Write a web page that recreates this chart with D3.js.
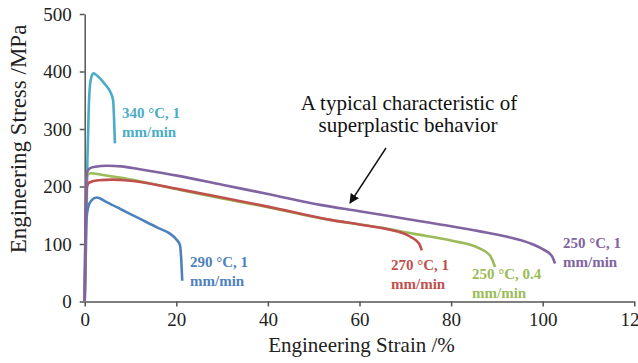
<!DOCTYPE html>
<html>
<head>
<meta charset="utf-8">
<script src="https://cdn.jsdelivr.net/npm/d3@7"></script>
<style>
  body { margin: 0; background: #fff; }
  svg { display: block; font-family: "Liberation Serif", "Times New Roman", serif; }
</style>
</head>
<body>
<div id="chart"></div>
<script>
// tick labels
var xTicks = [0, 20, 40, 60, 80, 100, 120];
var yTicks = [0, 100, 200, 300, 400, 500];

// curves: [strain %, stress MPa]
var c340 = [[0,0],[0.3,100],[0.6,250],[0.9,340],[1.3,385],[1.9,397],[2.8,392],[4.4,378],[5.5,366],[6.2,350],[6.4,320],[6.6,275]];
var c290 = [[0,0],[0.2,100],[0.4,145],[0.8,165],[1.5,176],[2.6,181],[5,172],[8,160],[12,144],[16,128],[18.6,118],[20,108],[20.8,98],[21.1,70],[21.3,36]];
var c270 = [[0,0],[0.2,150],[0.5,200],[1,207],[3,211],[6,212],[10,210],[20.8,195],[30,181],[40,165],[53.6,142],[60,134],[65.9,126],[71,113],[73,101],[73.6,89]];
var c250s = [[0,0],[0.2,160],[0.5,218],[1.2,223],[4,220],[8,215],[12,209],[20.8,194],[30,179],[40,164],[51.4,145],[60,134],[65,128],[71.7,118],[80,106],[86.3,92],[88.5,80],[89.6,60]];
var c250 = [[0,0],[0.2,150],[0.5,225],[1,231],[2,234],[5,236],[8,235],[12,230],[20.8,218],[30,203],[40,187],[51.4,168],[60,157],[70,144],[80,131],[86.3,122],[92,113],[97,102],[100,91],[102,79],[102.7,66]];

var series = [
  {data: c340, color: "#4bacc6", label: ["340 °C, 1", "mm/min"], at: [122, 118]},
  {data: c290, color: "#4f81bd", label: ["290 °C, 1", "mm/min"], at: [190, 267]},
  {data: c250s, color: "#9bbb59", label: ["250 °C, 0.4", "mm/min"], at: [472, 279]},
  {data: c270, color: "#c0504d", label: ["270 °C, 1", "mm/min"], at: [391, 270]},
  {data: c250, color: "#8064a2", label: ["250 °C, 1", "mm/min"], at: [563, 248]}
];

var width = 638, height = 363;
var svg = d3.select("#chart").append("svg")
  .attr("width", width)
  .attr("height", height);

var x = d3.scaleLinear().domain([0, 120]).range([84.7, 634.3]);
var y = d3.scaleLinear().domain([0, 500]).range([301.5, 14]);

// axes
var xAxis = svg.append("g")
  .attr("transform", "translate(0," + y(0) + ")")
  .call(d3.axisBottom(x).tickValues(xTicks).tickSizeInner(5).tickSizeOuter(0).tickPadding(6));
var yAxis = svg.append("g")
  .attr("transform", "translate(" + x(0) + ",0)")
  .call(d3.axisLeft(y).tickValues(yTicks).tickSizeInner(5).tickSizeOuter(0).tickPadding(8));

[xAxis, yAxis].forEach(function(g) {
  g.attr("font-family", "Liberation Serif").attr("font-size", 19);
  g.select(".domain").attr("stroke", "#555").attr("stroke-width", 1.5);
  g.selectAll(".tick line").attr("stroke", "#555").attr("stroke-width", 1.5);
  g.selectAll(".tick text").attr("fill", "#222");
});

svg.append("text")
  .attr("x", (x(0) + x(120)) / 2 + 2)
  .attr("y", 352)
  .attr("text-anchor", "middle")
  .attr("fill", "#222")
  .style("font-size", "21px")
  .text("Engineering Strain /%");

svg.append("text")
  .attr("transform", "translate(26," + 139 + ") rotate(-90)")
  .attr("text-anchor", "middle")
  .attr("fill", "#222")
  .style("font-size", "23px")
  .text("Engineering Stress /MPa");

// curves
var line = d3.line()
  .x(function(d) { return x(d[0]); })
  .y(function(d) { return y(d[1]); })
  .curve(d3.curveMonotoneX);

series.forEach(function(s) {
  svg.append("path")
    .datum(s.data)
    .attr("d", line)
    .attr("fill", "none")
    .attr("stroke", s.color)
    .attr("stroke-width", 2.6)
    .attr("stroke-linejoin", "round");

  var t = svg.append("text")
    .attr("fill", s.color)
    .style("font-size", "15px")
    .style("font-weight", "bold");
  t.append("tspan").attr("x", s.at[0]).attr("y", s.at[1]).text(s.label[0]);
  t.append("tspan").attr("x", s.at[0]).attr("y", s.at[1] + 18.5).text(s.label[1]);
});

// annotation
svg.append("defs").append("marker")
  .attr("id", "head")
  .attr("viewBox", "0 0 10 10")
  .attr("refX", 9).attr("refY", 5)
  .attr("markerWidth", 7).attr("markerHeight", 7)
  .attr("orient", "auto")
  .append("path")
  .attr("d", "M0,0 L10,5 L0,10 z")
  .attr("fill", "#111");

svg.append("line")
  .attr("x1", 386).attr("y1", 148)
  .attr("x2", 350).attr("y2", 203)
  .attr("stroke", "#111")
  .attr("stroke-width", 1.4)
  .attr("marker-end", "url(#head)");

var note = svg.append("text")
  .attr("text-anchor", "middle")
  .attr("fill", "#111")
  .style("font-size", "21px");
note.append("tspan").attr("x", 409).attr("y", 110).text("A typical characteristic of");
note.append("tspan").attr("x", 408).attr("y", 132).text("superplastic behavior");
</script>
</body>
</html>
